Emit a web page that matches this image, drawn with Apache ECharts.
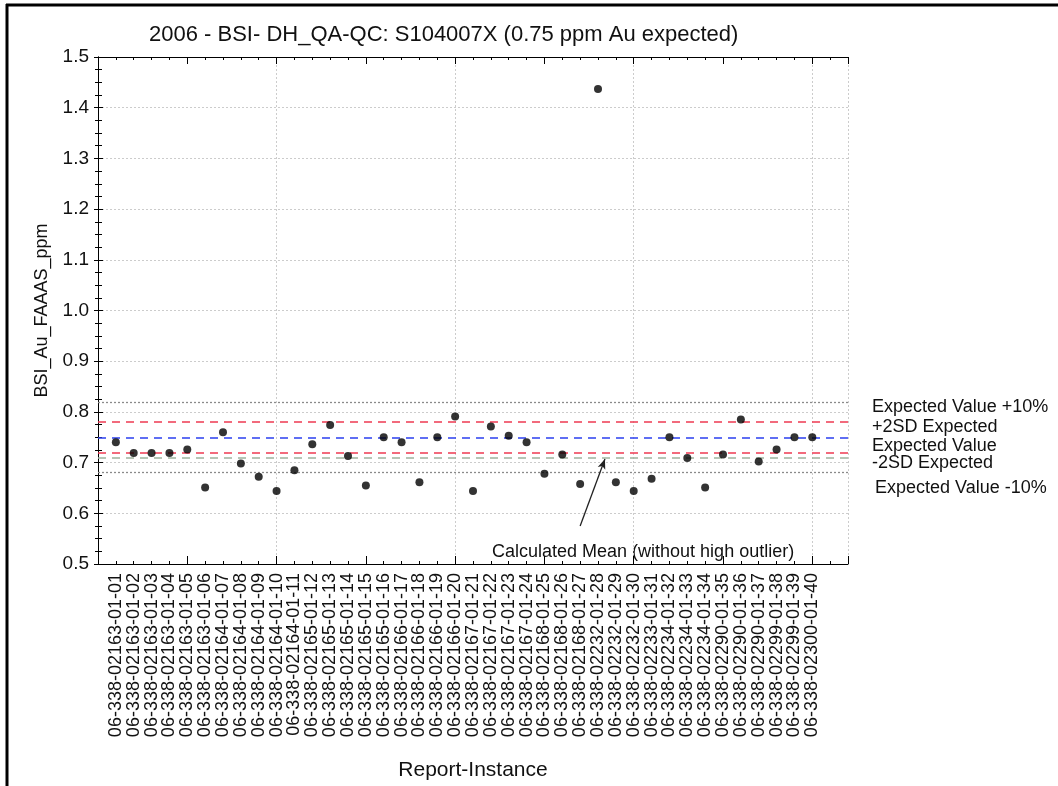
<!DOCTYPE html>
<html>
<head>
<meta charset="utf-8">
<title>2006 - BSI- DH_QA-QC: S104007X</title>
<script src="https://cdn.jsdelivr.net/npm/echarts@6/dist/echarts.min.js"></script>
<style>
  html, body { margin: 0; padding: 0; background: #ffffff; }
  #chart { width: 1058px; height: 786px; }
</style>
</head>
<body>
<div id="chart"></div>
<script>
// Report instances (x positions 1..40)
const categories = [
  '06-338-02163-01-01', '06-338-02163-01-02', '06-338-02163-01-03', '06-338-02163-01-04',
  '06-338-02163-01-05', '06-338-02163-01-06', '06-338-02164-01-07', '06-338-02164-01-08',
  '06-338-02164-01-09', '06-338-02164-01-10', '06-338-02164-01-11', '06-338-02165-01-12',
  '06-338-02165-01-13', '06-338-02165-01-14', '06-338-02165-01-15', '06-338-02165-01-16',
  '06-338-02166-01-17', '06-338-02166-01-18', '06-338-02166-01-19', '06-338-02166-01-20',
  '06-338-02167-01-21', '06-338-02167-01-22', '06-338-02167-01-23', '06-338-02167-01-24',
  '06-338-02168-01-25', '06-338-02168-01-26', '06-338-02168-01-27', '06-338-02232-01-28',
  '06-338-02232-01-29', '06-338-02232-01-30', '06-338-02233-01-31', '06-338-02234-01-32',
  '06-338-02234-01-33', '06-338-02234-01-34', '06-338-02290-01-35', '06-338-02290-01-36',
  '06-338-02290-01-37', '06-338-02299-01-38', '06-338-02299-01-39', '06-338-02300-01-40'
];

// Standard S104007X assay results (ppm Au)
const auValues = [
  0.740, 0.719, 0.719, 0.719, 0.726, 0.651, 0.760, 0.698, 0.672, 0.644,
  0.685, 0.736, 0.774, 0.713, 0.655, 0.750, 0.740, 0.661, 0.750, 0.791,
  0.644, 0.771, 0.753, 0.740, 0.678, 0.716, 0.658, 1.437, 0.661, 0.644,
  0.668, 0.750, 0.709, 0.651, 0.716, 0.785, 0.702, 0.726, 0.750, 0.750
];

// Control levels (ppm Au)
const expectedValue = 0.75;
const expectedPlus10 = 0.825;
const expectedMinus10 = 0.675;
const plus2SD = 0.7835;
const minus2SD = 0.718;
const calculatedMean = 0.710;

// Axis ranges / tick spacing
const yTicks = [0.5, 1.5, 0.1];
const xRange = [0, 42];

const FONT = "'Liberation Sans', Arial, sans-serif";

const chart = echarts.init(document.getElementById('chart'), null, { renderer: 'canvas' });

const points = auValues.map((v, i) => [i + 1, v]);

function refLine(value, color, type, width) {
  return { yAxis: value, lineStyle: { color: color, type: type, width: width } };
}

const option = {
  backgroundColor: '#ffffff',
  animation: false,
  title: {
    text: '2006 - BSI- DH_QA-QC: S104007X (0.75 ppm Au expected)',
    left: 144,
    top: 19,
    textStyle: { fontFamily: FONT, fontSize: 22, fontWeight: 'normal', color: '#111' }
  },
  grid: { left: 98, right: 210, top: 57, bottom: 221, containLabel: false },
  xAxis: [
    {
      type: 'value', position: 'bottom', min: xRange[0], max: xRange[1], interval: 1,
      axisLine: { show: true, lineStyle: { color: '#000', width: 1 } },
      axisTick: { show: true, inside: true, length: 3, lineStyle: { color: '#000' } },
      axisLabel: {
        show: true, rotate: 90, margin: 9, fontFamily: FONT, fontSize: 18, color: '#111',
        formatter: function (v) {
          const i = Math.round(v);
          return (i >= 1 && i <= categories.length) ? categories[i - 1] : '';
        }
      },
      splitLine: { show: false },
      name: 'Report-Instance', nameLocation: 'middle', nameGap: 196,
      nameTextStyle: { fontFamily: FONT, fontSize: 21, color: '#111' }
    },
    {
      type: 'value', position: 'bottom', min: xRange[0], max: xRange[1], interval: 5,
      axisLine: { show: false },
      axisTick: { show: true, inside: true, length: 8, lineStyle: { color: '#000' } },
      axisLabel: { show: false }, splitLine: { show: false }
    },
    {
      type: 'value', position: 'bottom', min: xRange[0], max: xRange[1], interval: 10,
      axisLine: { show: false }, axisTick: { show: false }, axisLabel: { show: false },
      splitLine: { show: true, lineStyle: { color: '#cccccc', type: [2, 2], width: 1 } }
    },
    {
      type: 'value', position: 'top', min: xRange[0], max: xRange[1], interval: 1,
      axisLine: { show: true, lineStyle: { color: '#000', width: 1 } },
      axisTick: { show: true, inside: true, length: 3, lineStyle: { color: '#000' } },
      axisLabel: { show: false }, splitLine: { show: false }
    },
    {
      type: 'value', position: 'top', min: xRange[0], max: xRange[1], interval: 5,
      axisLine: { show: false },
      axisTick: { show: true, inside: true, length: 7, lineStyle: { color: '#000' } },
      axisLabel: { show: false }, splitLine: { show: false }
    }
  ],
  yAxis: [
    {
      type: 'value', position: 'left', min: yTicks[0], max: yTicks[1], interval: yTicks[2],
      axisLine: { show: true, lineStyle: { color: '#000', width: 1 } },
      axisTick: { show: true, inside: true, length: 5, lineStyle: { color: '#000' } },
      minorTick: { show: true, splitNumber: 4, length: 4, lineStyle: { color: '#000' } },
      axisLabel: {
        margin: 9, fontFamily: FONT, fontSize: 19, color: '#111',
        formatter: function (v) { return v.toFixed(1); }
      },
      splitLine: { show: true, lineStyle: { color: '#cccccc', type: [2, 2], width: 1 } },
      name: 'BSI_Au_FAAAS_ppm', nameLocation: 'middle', nameGap: 47,
      nameTextStyle: { fontFamily: FONT, fontSize: 18, color: '#111' }
    },
    {
      type: 'value', position: 'right', min: yTicks[0], max: yTicks[1], interval: yTicks[2],
      axisLine: { show: true, lineStyle: { color: '#000', width: 1 } },
      axisTick: { show: true, inside: true, length: 4, lineStyle: { color: '#000' } },
      minorTick: { show: true, splitNumber: 4, length: 3, lineStyle: { color: '#000' } },
      axisLabel: { show: false }, splitLine: { show: false }
    }
  ],
  series: [
    {
      type: 'scatter',
      xAxisIndex: 0, yAxisIndex: 0,
      data: points,
      symbol: 'circle', symbolSize: 8,
      itemStyle: { color: '#000' },
      z: 5,
      markLine: {
        silent: true,
        symbol: 'none',
        label: { show: false },
        z: 3,
        data: [
          refLine(expectedPlus10, '#8a8a8a', [2, 2], 1.3),
          refLine(plus2SD, '#ee3a52', [8, 6], 1.5),
          refLine(expectedValue, '#2b3ff0', [8, 6], 1.5),
          refLine(calculatedMean, '#9fb29f', [8, 6], 1.5),
          refLine(minus2SD, '#ee3a52', [8, 6], 1.5),
          refLine(expectedMinus10, '#8a8a8a', [2, 2], 1.3),
          [
            { coord: [27.0, 0.575], symbol: 'none' },
            { coord: [28.39, 0.707], symbol: 'arrow', symbolSize: [6, 10],
              lineStyle: { color: '#222', type: 'solid', width: 1.3 } }
          ]
        ]
      }
    }
  ],
  graphic: [
    // outer frame
    { type: 'line', shape: { x1: 7, y1: 4, x2: 7, y2: 786 }, style: { stroke: '#000', lineWidth: 3 } },
    { type: 'line', shape: { x1: 6, y1: 5, x2: 1058, y2: 5 }, style: { stroke: '#000', lineWidth: 3 } },
    // annotation text
    { type: 'text', x: 492, y: 552, style: { text: 'Calculated Mean (without high outlier)', font: '18px ' + FONT, fill: '#111', verticalAlign: 'middle' } },
    // level labels to the right of the plot
    { type: 'text', x: 872, y: 407, style: { text: 'Expected Value +10%', font: '18px ' + FONT, fill: '#111', verticalAlign: 'middle' } },
    { type: 'text', x: 872, y: 427, style: { text: '+2SD Expected', font: '18px ' + FONT, fill: '#111', verticalAlign: 'middle' } },
    { type: 'text', x: 872, y: 446, style: { text: 'Expected Value', font: '18px ' + FONT, fill: '#111', verticalAlign: 'middle' } },
    { type: 'text', x: 872, y: 463, style: { text: '-2SD Expected', font: '18px ' + FONT, fill: '#111', verticalAlign: 'middle' } },
    { type: 'text', x: 875, y: 488, style: { text: 'Expected Value -10%', font: '18px ' + FONT, fill: '#111', verticalAlign: 'middle' } }
  ]
};

chart.setOption(option);
</script>
</body>
</html>
